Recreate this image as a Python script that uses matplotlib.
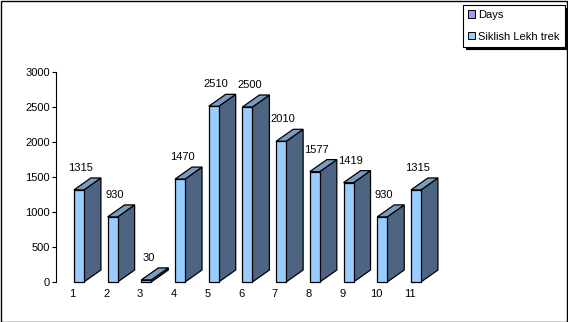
import numpy as np
import matplotlib.pyplot as plt
from matplotlib.patches import Patch, Rectangle

plt.rcParams['font.family'] = ['Liberation Sans', 'DejaVu Sans']

# dữ liệu
categories = ['1', '2', '3', '4', '5', '6', '7', '8', '9', '10', '11']
values = [1315, 930, 30, 1470, 2510, 2500, 2010, 1577, 1419, 930, 1315]
legend_labels = ['Days', 'Siklish Lekh trek']
y_ticks = [0, 500, 1000, 1500, 2000, 2500, 3000]

W, H = 568, 322
fig = plt.figure(figsize=(W / 100, H / 100), dpi=100)

# vị trí trục theo pixel
px_x = 33.7
x0, x1 = 0.32, 12.0
ax_left, ax_bottom, ax_top = 56, 282, 72
ax_w = (x1 - x0) * px_x
ax = fig.add_axes([ax_left / W, 1 - ax_bottom / H, ax_w / W, (ax_bottom - ax_top) / H])
ax.set_xlim(x0, x1)
ax.set_ylim(0, 3000)
px_y = (ax_bottom - ax_top) / 3000

# hiệu ứng 3D
hw = 5 / px_x
dx = 17 / px_x
dy = 12 / px_y

front_c = '#99CCFF'
side_c = '#4D6582'
top_c = '#7A9CC2'

x = np.arange(1, len(values) + 1)
for xi, v in zip(x, values):
    xl, xr = xi - hw, xi + hw
    ax.fill([xr, xr + dx, xr + dx, xr], [0, dy, v + dy, v],
            facecolor=side_c, edgecolor='black', lw=0.9, clip_on=False, zorder=2)
    ax.fill([xl, xr, xr + dx, xl + dx], [v, v, v + dy, v + dy],
            facecolor=top_c, edgecolor='black', lw=0.9, clip_on=False, zorder=2)
    ax.fill([xl, xr, xr, xl], [0, 0, v, v],
            facecolor=front_c, edgecolor='black', lw=0.9, clip_on=False, zorder=3)
    ax.annotate(str(v), (xi + 0.06, v + dy), xytext=(0, 3.5), textcoords='offset points',
                ha='center', va='bottom', fontsize=8, clip_on=False)

ax.set_xticks(x - 0.19)
ax.set_xticklabels(categories)
ax.set_yticks(y_ticks)
ax.tick_params(axis='x', length=0, pad=5, labelsize=8)
ax.tick_params(axis='y', length=3, width=0.8, pad=1.5, labelsize=8)
for s in ['top', 'right', 'bottom']:
    ax.spines[s].set_visible(False)
ax.spines['left'].set_linewidth(0.8)

handles = [Patch(facecolor='#9999FF', edgecolor='black', lw=0.7),
           Patch(facecolor='#99CCFF', edgecolor='black', lw=0.7)]
leg = fig.legend(handles, legend_labels, loc='upper left',
                 bbox_to_anchor=(463 / W, 1 - 5 / H), borderaxespad=0,
                 fontsize=8, frameon=True, fancybox=False,
                 shadow={'color': 'black', 'alpha': 1},
                 handlelength=0.65, handleheight=0.65, handletextpad=0.25,
                 labelspacing=1.05, borderpad=0.45)
leg.get_frame().set_edgecolor('black')
leg.get_frame().set_linewidth(0.8)

fig.patches.append(Rectangle((0.5 / W, 0.5 / H), (W - 1.5) / W, (H - 1.5) / H,
                             transform=fig.transFigure, fill=False,
                             edgecolor='black', lw=1.0))

fig.savefig('out.png', dpi=100)
